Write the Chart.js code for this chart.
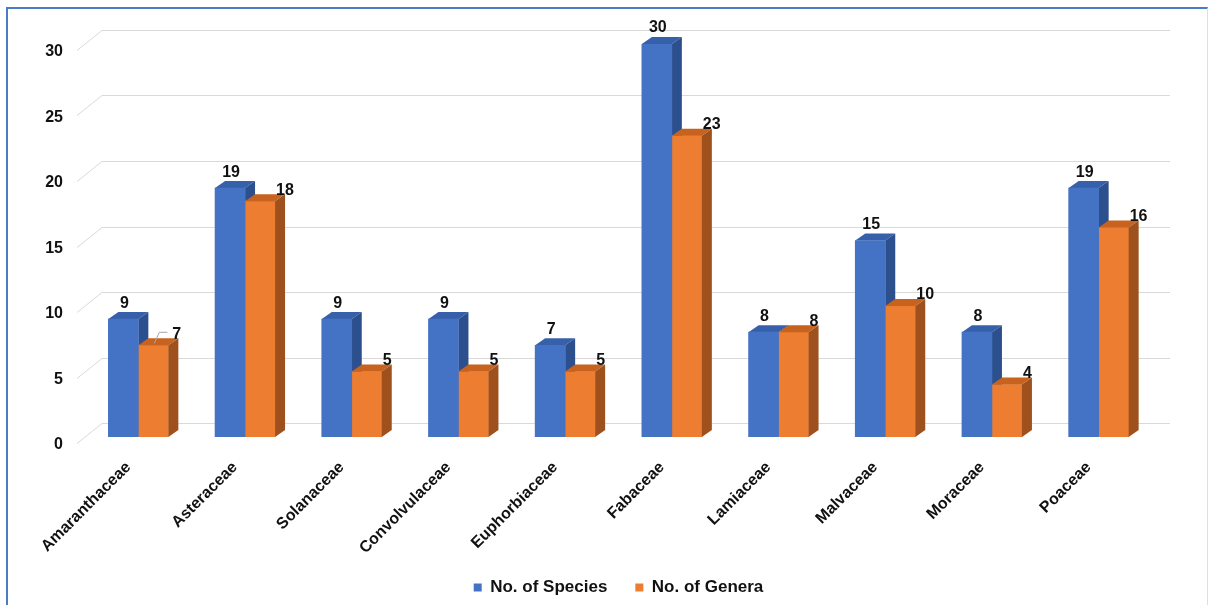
<!DOCTYPE html>
<html><head><meta charset="utf-8">
<script src="https://cdn.jsdelivr.net/npm/chart.js@4.4.0/dist/chart.umd.min.js"></script>
<style>
html,body{margin:0;padding:0;background:#fff;}
#wrap{position:relative;width:1209px;height:605px;overflow:hidden;}
#frame{position:absolute;left:6px;top:7px;width:1202px;height:620px;border-left:2px solid #4a7cc4;border-top:2px solid #4a7cc4;border-right:1px solid #cfe3f3;box-sizing:border-box;pointer-events:none;}
canvas{position:absolute;left:0;top:0;}
</style></head><body>
<div id="wrap"><canvas id="c" width="1209" height="605"></canvas><div id="frame"></div></div>
<script>
const categories = ['Amaranthaceae','Asteraceae','Solanaceae','Convolvulaceae','Euphorbiaceae','Fabaceae','Lamiaceae','Malvaceae','Moraceae','Poaceae'];
const species = [9,19,9,9,7,30,8,15,8,19];
const genera = [7,18,5,5,5,23,8,10,4,16];
const yTicks = [0,5,10,15,20,25,30];
const seriesNames = ['No. of Species','No. of Genera'];

const FONT = '"Liberation Sans", Arial, sans-serif';
const DX = 10, DY = 7;
const faceColors = [
  {front:'#4472c4', top:'#3760ab', side:'#2c4f8d'},
  {front:'#ed7d31', top:'#c8621f', side:'#9f511d'}
];

function poly(ctx, pts, fill){
  ctx.beginPath();
  ctx.moveTo(pts[0][0], pts[0][1]);
  for (let i=1;i<pts.length;i++) ctx.lineTo(pts[i][0], pts[i][1]);
  ctx.closePath();
  ctx.fillStyle = fill;
  ctx.fill();
}
function drawFaces(ctx, meta, c){
  meta.data.forEach(bar=>{
    const {x, y, base, width} = bar.getProps(['x','y','base','width'], true);
    const l = x - width/2, r = x + width/2;
    poly(ctx, [[l,y],[l+DX,y-DY],[r+DX,y-DY],[r,y]], c.top);
    poly(ctx, [[r,y],[r+DX,y-DY],[r+DX,base-DY],[r,base]], c.side);
  });
}

const threeD = {
  id:'threeD',
  afterLayout(chart){
    const lg = chart.legend;
    if (lg) { lg.top = 551; lg.bottom = 605; lg.height = 54; }
  },
  beforeDatasetsDraw(chart){
    const {ctx, chartArea, scales:{y}} = chart;
    ctx.save();
    ctx.strokeStyle = '#d9d9d9';
    ctx.lineWidth = 1;
    yTicks.forEach(v=>{
      const p = Math.round(y.getPixelForValue(v)) + 0.5;
      ctx.beginPath();
      ctx.moveTo(chartArea.left - 8, p + 6);
      ctx.lineTo(chartArea.left + 17, p - 14);
      ctx.lineTo(chartArea.right + 18, p - 14);
      ctx.stroke();
    });
    drawFaces(ctx, chart.getDatasetMeta(0), faceColors[0]);
    ctx.restore();
  },
  afterDatasetDraw(chart, args){
    if (args.index !== 1) return;
    const ctx = chart.ctx;
    ctx.save();
    drawFaces(ctx, args.meta, faceColors[1]);
    ctx.restore();
  },
  afterDatasetsDraw(chart){
    const ctx = chart.ctx;
    ctx.save();
    ctx.font = 'bold 16px ' + FONT;
    ctx.fillStyle = '#111';
    ctx.textBaseline = 'middle';
    chart.getDatasetMeta(0).data.forEach((bar,i)=>{
      ctx.textAlign = 'center';
      ctx.fillText(String(species[i]), bar.x + 1, bar.y - 16);
    });
    chart.getDatasetMeta(1).data.forEach((bar,i)=>{
      ctx.textAlign = 'left';
      const r = bar.x + bar.width/2;
      let lx = r + 1;
      if (i === 0) {
        ctx.strokeStyle = '#a6a6a6';
        ctx.lineWidth = 1;
        ctx.beginPath();
        ctx.moveTo(bar.x + 1, bar.y - 2);
        ctx.lineTo(bar.x + 6, bar.y - 13);
        ctx.lineTo(bar.x + 14, bar.y - 13);
        ctx.stroke();
        lx = r + 4;
      }
      ctx.fillText(String(genera[i]), lx, bar.y - 11);
    });
    ctx.restore();
  }
};

new Chart(document.getElementById('c'), {
  type:'bar',
  data:{
    labels: categories,
    datasets:[
      {label:seriesNames[0], data:species, backgroundColor:faceColors[0].front, borderWidth:0, barThickness:30},
      {label:seriesNames[1], data:genera, backgroundColor:faceColors[1].front, borderWidth:0, barThickness:30}
    ]
  },
  options:{
    responsive:false,
    animation:false,
    devicePixelRatio:1,
    layout:{padding:{left:0, right:57, top:44, bottom:0}},
    plugins:{
      tooltip:{enabled:false},
      legend:{
        position:'bottom',
        fullSize:false,
        maxHeight:46,
        labels:{boxWidth:8, boxHeight:8, padding:28, color:'#111', font:{family:FONT, size:17, weight:'bold'}}
      }
    },
    scales:{
      x:{
        grid:{display:false}, border:{display:false},
        ticks:{maxRotation:45, minRotation:45, autoSkip:false, padding:13, labelOffset:-10, color:'#111', font:{family:FONT, size:16, weight:'bold'}},
        afterFit(s){ s.height = 122; }
      },
      y:{
        min:0, max:30,
        grid:{display:false}, border:{display:false},
        ticks:{stepSize:5, padding:14, labelOffset:8, color:'#111', font:{family:FONT, size:16, weight:'bold'}},
        afterFit(s){ s.width = 85; }
      }
    }
  },
  plugins:[threeD]
});
</script>
</body></html>
